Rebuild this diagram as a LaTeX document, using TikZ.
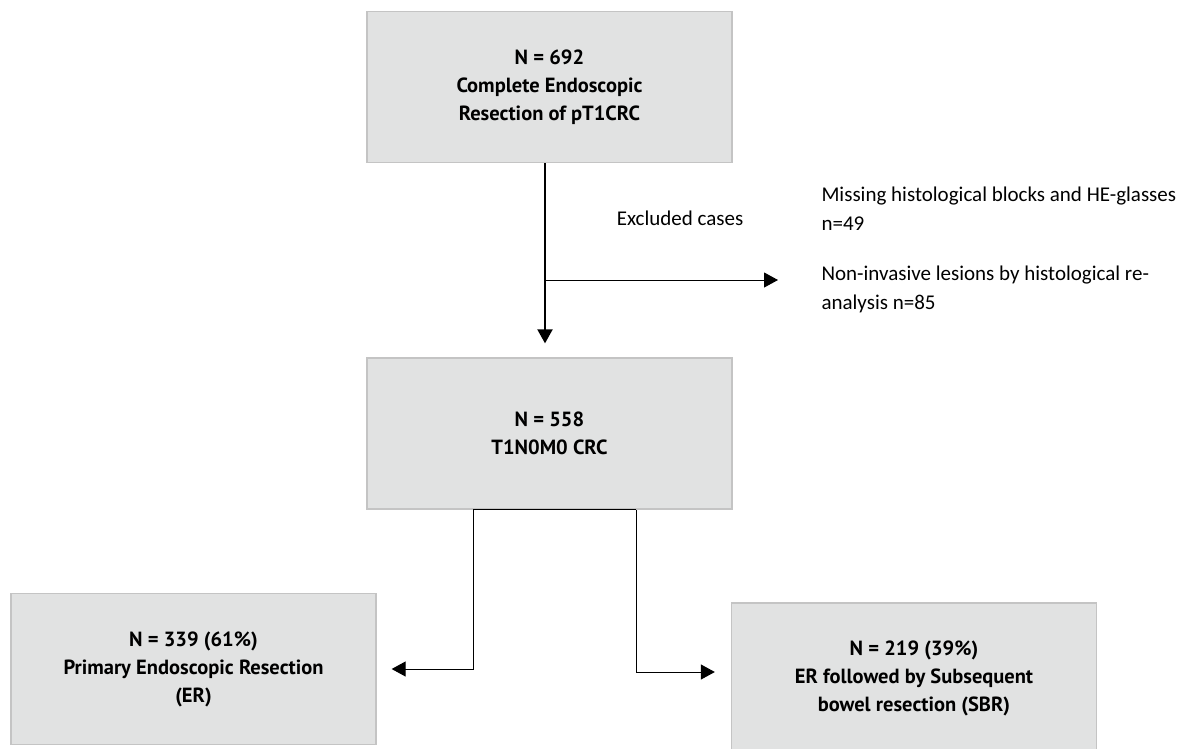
\documentclass[tikz,border=0pt]{standalone}
\usepackage{fontspec}
\setmainfont{Carlito}
\newfontfamily\boxfont{PT Sans}
\usetikzlibrary{arrows.meta}
\definecolor{boxgray}{RGB}{225,226,226}
\definecolor{edgegray}{RGB}{196,196,196}

\begin{document}
\begin{tikzpicture}[x=1pt,y=-1pt,
  box/.style={rectangle,draw=edgegray,line width=1.3pt,fill=boxgray,minimum width=365pt,minimum height=151pt,align=center,font=\boxfont\bfseries\fontsize{20.5}{28}\selectfont},
  note/.style={align=left,font=\fontsize{21}{29}\selectfont},
  arr/.style={line width=1pt,-{Triangle[length=14pt,width=15pt]}}]
\useasboundingbox (0,0) rectangle (1188,748);
\node [box] (top) at (549.5,87) {N = 692\\Complete Endoscopic\\Resection of pT1CRC};
\node [box] (mid) at (549.5,433.5) {N = 558\\T1N0M0 CRC};
\node [box] (lbox) at (193.5,669) {N = 339 (61\%)\\Primary Endoscopic Resection\\(ER)};
\node [box] (rbox) at (914,678.5) {N = 219 (39\%)\\ER followed by Subsequent\\bowel resection (SBR)};
\node [note] (excl) at (680,218) {Excluded cases};
\node [note,anchor=west] (miss) at (818,209) {Missing histological blocks and HE-glasses\\n=49};
\node [note,anchor=west] (noninv) at (818,289) {Non-invasive lesions by histological re-\\analysis n=85};
\coordinate (split) at (545,280);
\coordinate (exend) at (778,280);
\coordinate (bl) at ([xshift=-76.5pt]mid.south);
\coordinate (br) at ([xshift=86.5pt]mid.south);
\draw [arr,line width=2pt] ([xshift=-4.5pt]top.south) -- ([xshift=-4.5pt,yshift=14pt]mid.north);
\draw [arr] (split) -- (exend);
\draw [line width=1pt] (bl) -- (br);
\draw [arr] (bl) |- ([xshift=15pt]lbox.east);
\draw [arr] (br) |- ([xshift=-16pt,yshift=6.5pt]rbox.west);
\end{tikzpicture}
\end{document}
